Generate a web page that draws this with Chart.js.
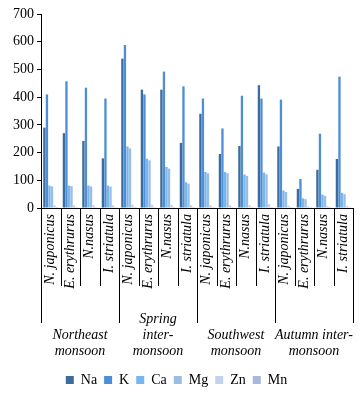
<!DOCTYPE html>
<html>
<head>
<meta charset="utf-8">
<script src="https://cdn.jsdelivr.net/npm/chart.js@4.4.1/dist/chart.umd.min.js"></script>
<style>
  html, body { margin: 0; padding: 0; background: #fff; }
  #wrap { width: 364px; height: 397px; position: relative; }
</style>
</head>
<body>
<div id="wrap"><canvas id="chart"></canvas></div>
<script>
// species within each season, and the seasons
const species = ['N. japonicus', 'E. erythrurus', 'N.nasus', 'I. striatula'];
const seasons = [['Northeast', 'monsoon'], ['Spring', 'inter-', 'monsoon'], ['Southwest', 'monsoon'], ['Autumn inter-', 'monsoon']];
const yTicks = [0, 100, 200, 300, 400, 500, 600, 700];

// values (16 categories: 4 seasons x 4 species)
const na = [290, 270, 242, 179, 539, 427, 427, 235, 340, 195, 224, 443, 222, 69, 138, 177];
const k  = [410, 457, 434, 395, 588, 410, 492, 439, 395, 287, 405, 395, 391, 105, 268, 474];
const ca = [81, 81, 81, 81, 222, 178, 148, 93, 130, 130, 121, 128, 63, 35, 48, 55];
const mg = [78, 79, 78, 77, 215, 172, 142, 88, 125, 126, 116, 122, 58, 32, 44, 50];
const zn = [10, 10, 10, 10, 12, 12, 11, 10, 10, 10, 10, 14, 8, 6, 7, 8];
const mn = [3, 3, 3, 3, 3, 3, 3, 3, 3, 3, 3, 3, 3, 3, 3, 3];

const labels = [];
seasons.forEach(() => species.forEach(s => labels.push(s)));

const serif = '"Liberation Serif", "Times New Roman", serif';

const series = [
    { label: 'Na', data: na, color: '#3b6c9d' },
    { label: 'K', data: k, color: '#4d8ed6' },
    { label: 'Ca', data: ca, color: '#78b6ef' },
    { label: 'Mg', data: mg, color: '#9bbde2' },
    { label: 'Zn', data: zn, color: '#bfd3ea' },
    { label: 'Mn', data: mn, color: '#a7b8dc' }
];

// species names (rotated) and season names under the axis, with separators
const multiLevel = {
    id: 'multiLevel',
    afterDraw(chart) {
        const ctx = chart.ctx;
        const x = chart.scales.x;
        const y0 = chart.chartArea.bottom;
        const n = labels.length;
        const step = (x.right - x.left) / n;
        ctx.save();
        ctx.strokeStyle = '#000';
        ctx.lineWidth = 1;
        for (let i = 0; i <= n; i++) {
            const px = Math.round(x.left + i * step) + 0.5;
            ctx.beginPath();
            ctx.moveTo(px, y0);
            ctx.lineTo(px, i % 4 === 0 ? y0 + 115 : y0 + 78);
            ctx.stroke();
        }
        ctx.fillStyle = '#000';
        ctx.font = 'italic 14px ' + serif;
        ctx.textAlign = 'right';
        ctx.textBaseline = 'middle';
        for (let i = 0; i < n; i++) {
            const cx = x.getPixelForValue(i);
            ctx.save();
            ctx.translate(cx, y0 + 6);
            ctx.rotate(-Math.PI / 2);
            ctx.fillText(labels[i], 0, 0);
            ctx.restore();
        }
        ctx.font = 'italic 14px ' + serif;
        ctx.textAlign = 'center';
        seasons.forEach((lines, g) => {
            const cx = x.left + (g * 4 + 2) * step;
            const startY = y0 + 143 - (lines.length - 1) * 16;
            lines.forEach((t, j) => ctx.fillText(t, cx, startY + j * 16));
        });
        ctx.restore();
    }
};

new Chart(document.getElementById('chart').getContext('2d'), {
    type: 'bar',
    data: {
        labels: labels,
        datasets: series.map(s => ({
            label: s.label,
            data: s.data,
            backgroundColor: s.color,
            borderWidth: 0,
            categoryPercentage: 0.78,
            barPercentage: 0.92
        }))
    },
    options: {
        responsive: true,
        maintainAspectRatio: false,
        animation: false,
        layout: { padding: { left: 0, right: 11, top: 14, bottom: 0 } },
        plugins: {
            legend: {
                position: 'bottom',
                labels: {
                    boxWidth: 8,
                    boxHeight: 8,
                    padding: 7,
                    color: '#000',
                    font: { family: serif, size: 14 }
                }
            },
            tooltip: { enabled: false }
        },
        scales: {
            x: {
                ticks: { display: false },
                grid: { display: false },
                border: { color: '#000' },
                afterFit: s => { s.height = 158; }
            },
            y: {
                min: 0,
                max: 700,
                afterBuildTicks: s => { s.ticks = yTicks.map(v => ({ value: v })); },
                ticks: {
                    color: '#000',
                    padding: 3,
                    font: { family: serif, size: 14 }
                },
                grid: { drawOnChartArea: false, drawTicks: true, tickLength: 4, color: '#000' },
                border: { color: '#000' },
                afterFit: s => { s.width = 41; }
            }
        }
    },
    plugins: [multiLevel]
});
</script>
</body>
</html>
